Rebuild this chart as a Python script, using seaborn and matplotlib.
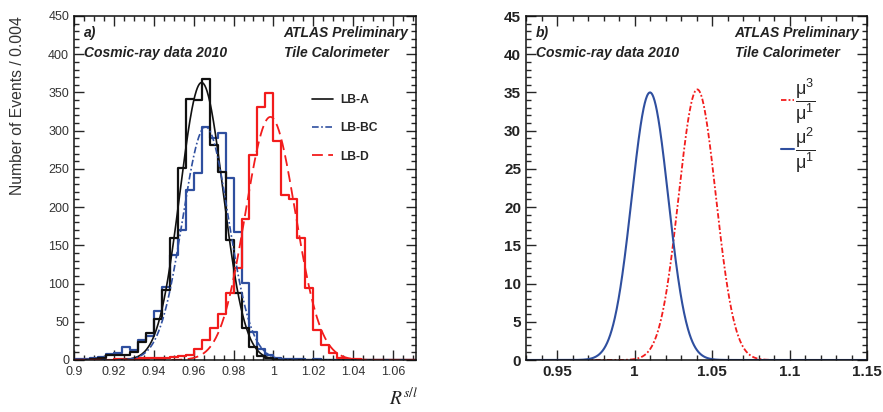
import numpy as np
import pandas as pd
import matplotlib
matplotlib.use("Agg")
import matplotlib.pyplot as plt
from matplotlib.ticker import MultipleLocator, FuncFormatter
import seaborn as sns

# ---- data ----
bin_start = 0.9
bin_width = 0.004

# bin contents, one value per 0.004 bin, first bin is 0.900-0.904
lb_a = [0, 0, 1, 2, 7, 7, 6, 11, 24, 35, 54, 92, 159, 251, 341, 340, 367,
        281, 246, 157, 88, 42, 17, 5, 2, 1, 0, 0, 0, 0, 0, 0, 0, 0, 0, 0, 0,
        0, 0, 0, 0, 0, 0]
lb_bc = [1, 1, 2, 4, 8, 9, 17, 13, 26, 31, 64, 95, 137, 170, 222, 244, 305,
         290, 297, 238, 167, 101, 37, 15, 6, 2, 1, 1, 1, 0, 1, 0, 0, 0, 0, 0,
         0, 0, 0, 0, 0, 0, 0]
lb_d = [0, 0, 0, 0, 0, 1, 1, 1, 2, 3, 2, 3, 4, 5, 7, 15, 26, 42, 60, 88, 120,
        185, 268, 331, 349, 287, 216, 211, 159, 94, 39, 20, 9, 3, 1, 1, 0, 0,
        0, 0, 0, 0, 0]

# gaussian fits (mean, sigma, amplitude)
fit_names = ["LB-A", "LB-BC", "LB-D"]
fit_mean = [0.964, 0.966, 0.9985]
fit_sigma = [0.0108, 0.0115, 0.0125]
fit_amp = [363, 305, 318]

# panel b: ratio distributions (mean, sigma, amplitude)
ratio_labels = [r"$\dfrac{\mathrm{μ}^3}{\mathrm{μ}^1}$", r"$\dfrac{\mathrm{μ}^2}{\mathrm{μ}^1}$"]
ratio_mean = [1.0405, 1.010]
ratio_sigma = [0.0120, 0.0118]
ratio_amp = [35.4, 35.0]

# ---- style ----
sns.set_style("ticks")
plt.rcParams["font.family"] = ["Liberation Sans", "DejaVu Sans"]
plt.rcParams["mathtext.fontset"] = "custom"
plt.rcParams["mathtext.rm"] = "Liberation Sans"
plt.rcParams["mathtext.it"] = "Liberation Sans:italic"

c_black = "#111111"
c_blue = "#2f4f9f"
c_red = "#f21c1c"

fig = plt.figure(figsize=(8.83, 4.12), dpi=100)
ax1 = fig.add_axes([74 / 883, 52 / 412, 342 / 883, 344 / 412])
ax2 = fig.add_axes([526 / 883, 52 / 412, 341 / 883, 344 / 412])

nb = len(lb_a)
centers = bin_start + bin_width * (np.arange(nb) + 0.5)
hist = pd.DataFrame({"R": centers, "LB-A": lb_a, "LB-BC": lb_bc, "LB-D": lb_d})

# ---- panel a ----
for col_name, col in [("LB-BC", c_blue), ("LB-A", c_black), ("LB-D", c_red)]:
    sns.histplot(data=hist, x="R", weights=col_name, binwidth=bin_width,
                 binrange=(bin_start, bin_start + nb * bin_width),
                 element="step", fill=False, color=col, linewidth=1.6, ax=ax1)

xg = np.linspace(0.9, 1.0715, 700)
styles = [("-", c_black, 1.2), ((0, (4, 1.5, 1, 1.5)), c_blue, 1.2),
          ((0, (6, 3)), c_red, 1.3)]
for name, m, s, a, (ls, col, lw) in zip(fit_names, fit_mean, fit_sigma, fit_amp, styles):
    yg = a * np.exp(-0.5 * ((xg - m) / s) ** 2)
    sns.lineplot(x=xg, y=yg, color=col, linestyle=ls, linewidth=lw,
                 label=name, errorbar=None, ax=ax1)

ax1.set_xlim(0.9, 1.0715)
ax1.set_ylim(0, 450)
ax1.xaxis.set_major_locator(MultipleLocator(0.02))
ax1.xaxis.set_minor_locator(MultipleLocator(0.005))
ax1.yaxis.set_major_locator(MultipleLocator(50))
ax1.yaxis.set_minor_locator(MultipleLocator(10))
ax1.xaxis.set_major_formatter(FuncFormatter(lambda v, p: f"{v:g}"))
ax1.set_xlabel("")
ax1.set_ylabel("")
ax1.tick_params(labelsize=9, labelcolor="#333333")
ax1.tick_params(axis="x", pad=4)
ax1.legend(loc="upper left", bbox_to_anchor=(0.665, 0.805), frameon=False,
           prop={"weight": "bold", "size": 8.7}, handlelength=1.7,
           handletextpad=0.6, labelspacing=1.35)

# ---- panel b ----
xr = np.linspace(0.93, 1.15, 900)
rstyles = [((0, (3, 1.2, 1, 1.2)), c_red, 1.3), ("-", c_blue, 1.5)]
for lab, m, s, a, (ls, col, lw) in zip(ratio_labels, ratio_mean, ratio_sigma, ratio_amp, rstyles):
    yr = a * np.exp(-0.5 * ((xr - m) / s) ** 2)
    sns.lineplot(x=xr, y=yr, color=col, linestyle=ls, linewidth=lw,
                 label=lab, errorbar=None, ax=ax2)

ax2.set_xlim(0.93, 1.15)
ax2.set_ylim(0, 45)
ax2.xaxis.set_major_locator(MultipleLocator(0.05))
ax2.xaxis.set_minor_locator(MultipleLocator(0.01))
ax2.yaxis.set_major_locator(MultipleLocator(5))
ax2.yaxis.set_minor_locator(MultipleLocator(1))
ax2.xaxis.set_major_formatter(FuncFormatter(lambda v, p: f"{v:g}"))
ax2.set_xlabel("")
ax2.set_ylabel("")
ax2.tick_params(labelsize=11, labelcolor="#222222")
for lbl in ax2.get_xticklabels() + ax2.get_yticklabels():
    lbl.set_fontweight("bold")
ax2.legend(loc="upper left", bbox_to_anchor=(0.70, 0.872), frameon=False,
           prop={"size": 13}, handlelength=0.7, handletextpad=0.1,
           labelspacing=-0.06)

# ---- common frame / labels ----
for ax, tag in [(ax1, "a)"), (ax2, "b)")]:
    ax.tick_params(which="both", direction="in", top=True, right=True,
                   width=1.0)
    ax.tick_params(which="major", length=7)
    ax.tick_params(which="minor", length=3.5)
    for sp in ax.spines.values():
        sp.set_linewidth(1.1)
        sp.set_color("#111111")
    tk = dict(transform=ax.transAxes, fontsize=10, fontweight="bold",
              fontstyle="italic", color="#222222", va="center")
    ax.text(0.029, 0.951, tag, ha="left", **tk)
    ax.text(0.978, 0.951, "ATLAS Preliminary", ha="right", **tk)
    ax.text(0.029, 0.892, "Cosmic-ray data 2010", ha="left", **tk)
    ax.text(0.614, 0.892, "Tile Calorimeter", ha="left", **tk)

fig.text(18 / 883, 1 - 16 / 412, "Number of Events / 0.004", rotation=90,
         ha="center", va="top", fontsize=11.3, color="#333333")
fig.text(404 / 883, 1 - 398 / 412, r"$R^{s/l}$", ha="center", va="center",
         fontsize=14, math_fontfamily="stix", color="#222222")

fig.savefig("out.png", dpi=100)
